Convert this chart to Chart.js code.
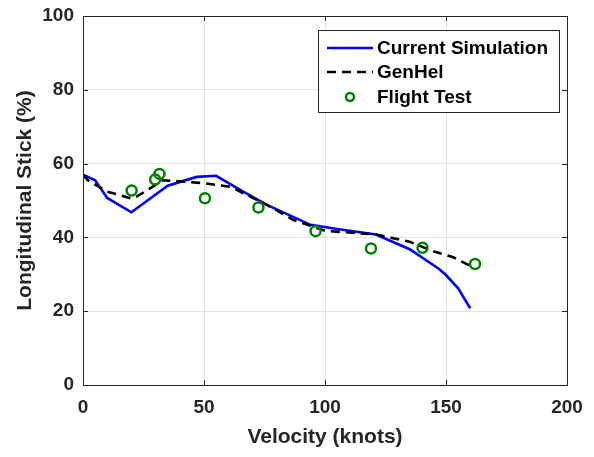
<!DOCTYPE html>
<html>
<head>
<meta charset="utf-8">
<script src="https://cdn.jsdelivr.net/npm/chart.js@4.4.1/dist/chart.umd.min.js"></script>
<style>
  html, body { margin: 0; padding: 0; background: #fff; }
  #wrap { width: 594px; height: 457px; position: relative; }
</style>
</head>
<body>
<div id="wrap"><canvas id="c" width="594" height="457"></canvas></div>
<script>
// ---- Data ----
const seriesNames = ["Current Simulation", "GenHel", "Flight Test"];

const simVelocity = [0, 5, 10, 20, 35, 47, 55, 66, 76, 94, 105, 121, 135, 147, 150, 155, 160];
const simStick    = [57, 55.5, 50.7, 46.8, 54, 56.4, 56.7, 52.5, 48.8, 43.4, 42.3, 40.8, 36.8, 31.5, 29.8, 26.2, 20.8];

const genhelVelocity = [0, 2, 10, 15, 20, 22, 28, 33, 40, 50, 61, 76, 87, 100, 121, 135, 145, 153, 161];
const genhelStick    = [57, 55.5, 52.4, 51.5, 50.5, 51, 53.4, 55.5, 55.2, 54.7, 53.7, 48.8, 44.7, 41.8, 40.8, 38.8, 36.2, 34.6, 32];

const flightVelocity = [20.1, 29.8, 31.6, 50.4, 72.5, 96.1, 119, 140.3, 162];
const flightStick    = [52.7, 55.7, 57.2, 50.6, 48.1, 41.7, 37, 37.2, 32.8];

const xTicks = [0, 50, 100, 150, 200];
const yTicks = [0, 20, 40, 60, 80, 100];

const xTitle = "Velocity (knots)";
const yTitle = "Longitudinal Stick (%)";

// ---- Build chart ----
const toPts = (xs, ys) => xs.map((x, i) => ({ x: x, y: ys[i] }));
const FONT = "'Liberation Sans', Arial, Helvetica, sans-serif";
const TXT = '#262626';

const decorPlugin = {
  id: 'decor',
  afterDatasetsDraw(chart) {
    const { ctx, chartArea: a, scales } = chart;
    ctx.save();
    ctx.strokeStyle = TXT;
    ctx.lineWidth = 1;
    const tl = 5;
    ctx.beginPath();
    xTicks.forEach(v => {
      const px = Math.round(scales.x.getPixelForValue(v)) + 0.5;
      ctx.moveTo(px, a.bottom); ctx.lineTo(px, a.bottom - tl);
      ctx.moveTo(px, a.top); ctx.lineTo(px, a.top + tl);
    });
    yTicks.forEach(v => {
      const py = Math.round(scales.y.getPixelForValue(v)) + 0.5;
      ctx.moveTo(a.left, py); ctx.lineTo(a.left + tl, py);
      ctx.moveTo(a.right, py); ctx.lineTo(a.right - tl, py);
    });
    ctx.stroke();
    ctx.strokeRect(Math.round(a.left) + 0.5, Math.round(a.top) + 0.5,
                   Math.round(a.right - a.left), Math.round(a.bottom - a.top));
    ctx.restore();
  },
  afterDraw(chart) {
    const { ctx, chartArea: a } = chart;
    const ds = chart.data.datasets;
    const bx = a.right - 249, by = a.top + 14, bw = 241, bh = 82;
    ctx.save();
    ctx.fillStyle = '#fff';
    ctx.fillRect(bx, by, bw, bh);
    ctx.strokeStyle = TXT;
    ctx.lineWidth = 1;
    ctx.strokeRect(Math.round(bx) + 0.5, Math.round(by) + 0.5, bw, bh);
    const rowY = [by + 18, by + 42, by + 67];
    const lx0 = bx + 9, lx1 = bx + 55, tx = bx + 59;
    ctx.font = 'bold 19px ' + FONT;
    ctx.textBaseline = 'middle';
    ctx.textAlign = 'left';
    ds.forEach((d, i) => {
      const y = rowY[i];
      if (d.showLine !== false) {
        ctx.strokeStyle = d.borderColor;
        ctx.lineWidth = d.borderWidth;
        ctx.setLineDash(d.borderDash || []);
        ctx.beginPath(); ctx.moveTo(lx0, y); ctx.lineTo(lx1, y); ctx.stroke();
        ctx.setLineDash([]);
      } else {
        ctx.strokeStyle = d.pointBorderColor;
        ctx.lineWidth = d.pointBorderWidth;
        ctx.beginPath(); ctx.arc((lx0 + lx1) / 2, y, d.pointRadius - 1, 0, Math.PI * 2); ctx.stroke();
      }
      ctx.fillStyle = '#000';
      ctx.fillText(d.label, tx, y + 1);
    });
    ctx.restore();
  }
};

new Chart(document.getElementById('c'), {
  type: 'scatter',
  data: {
    datasets: [
      {
        label: seriesNames[0],
        data: toPts(simVelocity, simStick),
        showLine: true,
        borderColor: '#0000ff',
        backgroundColor: '#0000ff',
        borderWidth: 2.6,
        pointRadius: 0,
        tension: 0,
        order: 3
      },
      {
        label: seriesNames[1],
        data: toPts(genhelVelocity, genhelStick),
        showLine: true,
        borderColor: '#000000',
        backgroundColor: '#000000',
        borderWidth: 2.6,
        borderDash: [9, 6],
        pointRadius: 0,
        tension: 0,
        order: 2
      },
      {
        label: seriesNames[2],
        data: toPts(flightVelocity, flightStick),
        showLine: false,
        pointRadius: 5,
        pointBorderWidth: 2.5,
        pointBorderColor: '#008000',
        pointBackgroundColor: 'rgba(0,0,0,0)',
        borderColor: '#008000',
        backgroundColor: 'rgba(0,0,0,0)',
        order: 1
      }
    ]
  },
  options: {
    responsive: false,
    animation: false,
    devicePixelRatio: 1,
    layout: { padding: { top: 16, right: 27, left: 0, bottom: 0 } },
    plugins: { legend: { display: false }, tooltip: { enabled: false } },
    scales: {
      x: {
        type: 'linear', min: 0, max: 200,
        afterBuildTicks: s => { s.ticks = xTicks.map(v => ({ value: v })); },
        afterFit: s => { s.height = 72; s.paddingLeft = 0; s.paddingRight = 0; },
        grid: { color: '#e3e3e3', drawTicks: false },
        border: { display: false },
        ticks: { font: { family: FONT, size: 19, weight: 'bold' }, color: TXT, padding: 11, maxRotation: 0 },
        title: { display: true, text: xTitle, font: { family: FONT, size: 21, weight: 'bold' }, color: TXT, padding: { top: 0, bottom: 7 } }
      },
      y: {
        type: 'linear', min: 0, max: 100,
        afterBuildTicks: s => { s.ticks = yTicks.map(v => ({ value: v })); },
        afterFit: s => { s.width = 83; s.paddingTop = 0; s.paddingBottom = 0; },
        grid: { color: '#e3e3e3', drawTicks: false },
        border: { display: false },
        ticks: { font: { family: FONT, size: 19, weight: 'bold' }, color: TXT, padding: 9 },
        title: { display: true, text: yTitle, font: { family: FONT, size: 21, weight: 'bold' }, color: TXT, padding: { top: 13, bottom: 0 } }
      }
    }
  },
  plugins: [decorPlugin]
});
</script>
</body>
</html>
